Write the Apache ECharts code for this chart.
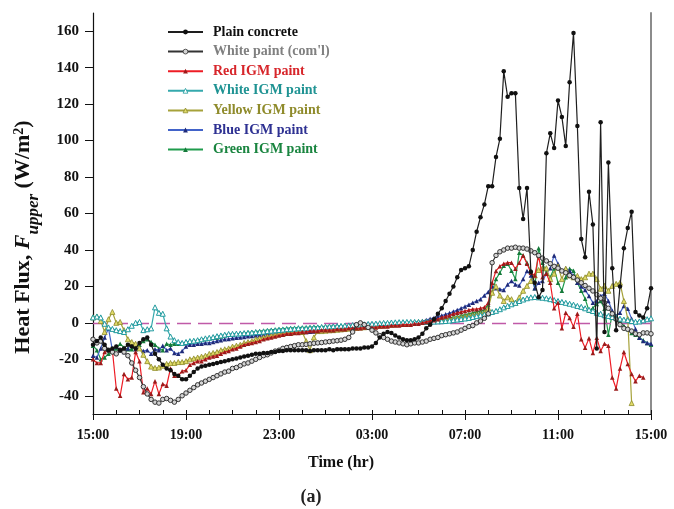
<!DOCTYPE html>
<html><head><meta charset="utf-8">
<script src="https://cdn.jsdelivr.net/npm/echarts@6/dist/echarts.min.js"></script>
<style>html,body{margin:0;padding:0;background:#fff}#c{width:674px;height:509px}</style>
</head><body><div id="c"></div>
<script>
// ---- data (10-minute steps starting 15:00) ----
const STEP_H = 1 / 6;
const seriesNames = ['Plain concrete', "White paint (com'l)", 'Red IGM paint', 'White IGM paint', 'Yellow IGM paint', 'Blue IGM paint', 'Green IGM paint'];
const xTickLabels = ['15:00', '19:00', '23:00', '03:00', '07:00', '11:00', '15:00'];
const yTicks = [-40, -20, 0, 20, 40, 60, 80, 100, 120, 140, 160];

const plainConcrete = [
-12,-10,-8,-12,-15,-14,-13,-15,-14,-12,
-13,-14,-11,-9,-8,-12,-17,-20,-23,-25,
-26,-28,-29,-31,-31,-29,-27,-25,-24,-23.5,
-23,-22.5,-22,-21.5,-21,-20.5,-20,-19.5,-19,-18.5,
-18,-17.5,-17,-17,-16.5,-16.5,-16,-16,-15.5,-15.5,
-15,-15,-15,-15,-15,-15,-15.5,-15,-15,-15,
-15,-14.5,-15,-14.5,-14.5,-14.5,-14.5,-14,-14,-14,
-13.5,-13.5,-13,-11,-8,-6,-5,-5.5,-7,-8,
-9,-9.5,-9.5,-9,-8,-6,-3,-1,2,5,
8,12,16,20,25,29,30,31,40,50,
58,65,75,75,91,101,138,124,126,126,
74,57,74,28,22,14,18,93,104,96,
122,113,97,132,159,108,46,36,72,54,
-14,110,-5,88,30,-4,20,41,52,61,
6,4,3,8,19
];
const whitePaint = [
-9,-11,-10,-14,-15,-16,-17,-15,-16,-18,
-22,-26,-30,-35,-39,-42,-43.5,-44,-42,-41.5,
-42.5,-43.5,-42,-40,-38.5,-37,-35.5,-34,-33,-32,
-31,-30,-29,-28,-27,-26.5,-25,-24.5,-23.5,-22.5,
-22,-21,-20,-19,-18,-17.5,-16.5,-15.5,-15,-14,
-13.5,-13,-12.5,-12,-12,-11.8,-11.5,-11.2,-11,-10.8,
-10.5,-10.3,-10,-9.8,-9.5,-9,-8,-5,-1,0,
-1,-2.5,-4,-5.5,-7,-8,-9,-10,-10.5,-11,
-11.5,-12,-11.5,-11,-11,-10.5,-10,-9,-8.5,-8,
-7,-6.5,-6,-5.5,-5,-4,-3,-2,-1.5,0,
1,2.5,5,33,37,39,40,41,41,41.5,
41,41,40.5,39.5,38.5,37,35.5,34,32.5,31,
30,28.5,27.5,26,25,23.5,22,20.5,19,17.5,
15.5,13.5,11,8,5,2,-1,-3,-3.5,-4.5,
-6,-6.5,-5.5,-5.5,-6
];
const redIGM = [
-20,-22,-22,-16,-15,-15,-36,-40,-28,-31,
-30,-16,-21,-38,-36,-39,-32,-39,-33.5,-34.5,
-25,-29,-29,-26.5,-26,-23,-22,-21,-21,-20,
-19,-18.5,-18,-17,-16,-15.5,-14.5,-14,-13,-12,
-11.5,-11,-10.5,-10,-9,-8.5,-8,-7.5,-7,-6.5,
-6,-6,-5.5,-5.5,-5,-5,-4.5,-4.5,-4.5,-4,
-4,-4,-4,-3.5,-3.5,-3.5,-3,-3,-3,-3,
-2.5,-2.5,-2.5,-2.5,-2,-2,-2,-1.5,-1.5,-1.5,
-1,-1,-1,-0.5,-0.5,0,0.5,1,1.5,2,
3,3.5,4,5,5.5,6,6.5,7,7.5,7.5,
8,8.5,11,22,28.5,31,32.5,33,33,29.7,
33,37,32.4,27.5,26,36.8,25,27,22,8,
11,-3,5.5,2.7,-2.2,5,-9,-13.7,-8.5,-16.5,
-8.2,-15.4,-11.5,-12.6,-30,-36,-25,-16,-22.6,-28,
-32,-29,-30,null,null
];
const whiteIGM = [
3,3.5,3,-0.5,-2.5,-3.3,-4,-4.5,-5,-3.5,
-1.6,0,0.5,-4,-3.5,-3,8.5,5.5,5,-3,
-7.5,-9.5,-10.5,-11,-10.5,-10,-9.8,-9.5,-9,-8.5,
-8.2,-7.8,-7.3,-6.9,-6.5,-6.1,-6,-5.9,-5.8,-5.6,
-5.5,-5.3,-5.1,-5,-4.8,-4.5,-4.3,-4.1,-3.9,-3.7,
-3.5,-3.3,-3.2,-3,-3,-3,-2.8,-2.6,-2.5,-2.3,
-2.2,-2,-1.9,-1.8,-1.7,-1.5,-1.4,-1.2,-1,-0.9,
-0.8,-0.6,-0.5,-0.4,-0.2,0,0,0.2,0.3,0.4,
0.4,0.5,0.5,0.5,0.5,0.5,0.6,0.6,0.7,0.8,
0.9,1,1.2,1.5,1.8,2.1,2.4,2.7,3.2,3.7,
4.2,4.6,5.2,6,6.6,7.5,8.5,9.3,10.2,11,
12,12.8,13.5,14,14.2,14,13.8,13.5,13,12.5,
12,11.5,11,10.5,10,9.3,8.8,8,7.2,6.5,
5.5,5,4.2,3.8,3.2,2.8,2.3,1.8,1.5,1,
0.6,0.8,1.4,2,2.5
];
const yellowIGM = [
3,3.5,1,-5,2,6,0,0.5,-4,-9,
-10.5,-11.5,-14,-17.5,-21,-24,-24.7,-24.5,-23.5,-22.5,
-22,-22,-21.5,-21.5,-21,-20,-19.5,-19,-18.5,-18,
-17,-16.5,-16,-15,-14.5,-14,-13,-12.5,-12,-11,
-10.5,-10,-9,-8.5,-8,-7.5,-7,-6.5,-6,-6,
-5.5,-5.5,-5,-5,-5,-10,-15,-8,-4.5,-4.5,
-4.3,-4.1,-4,-3.8,-3.6,-3.4,-3.2,-3,-2.8,-2.6,
-2.4,-2.2,-2,-1.8,-1.6,-1.4,-1.2,-1,-0.8,-0.6,
-0.4,-0.2,0,0.2,0.4,0.5,0.7,0.9,1.1,1.3,
1.5,1.8,2.1,2.4,2.7,3,3.4,3.8,4.2,4.6,
5,5.5,8,16.5,20,15,12,14,13,11,
14,17.6,20.3,23,26,29,30,30,24,27,
31,24,29.7,26,25,25.8,24,25,27,27,
24,18.7,20.3,17.6,20.3,21.4,22,12,2.2,-44,
null,null,null,null,null
];
const blueIGM = [
-18,-19,-14,-8,-3,-15,-13,-15,-16,-14,
-11.5,-14.5,-14,-15.5,-15,-17,-14.5,-15,-12.6,-15,
-14,-16.5,-17,-15.5,-13,-12,-12,-11.5,-11.5,-11,
-11,-10.5,-10,-9.5,-9,-8.8,-8.5,-8.2,-8,-7.7,
-7.4,-7.2,-7,-6.8,-6.6,-6.4,-6.2,-6,-5.9,-5.8,
-5.6,-5.5,-5.4,-5.3,-5.2,-5,-4.9,-4.7,-4.6,-4.4,
-4.3,-4.1,-4,-3.8,-3.6,-3.4,-3.2,-3,-2.8,-2.6,
-2.4,-2.2,-2,-1.8,-1.6,-1.4,-1.2,-1,-0.8,-0.6,
-0.4,-0.2,0,0.3,0.6,1,1.6,2.2,2.8,3.4,
4,4.7,5.4,6.2,7,8,9,10,11,12,
13,15,17,20,19,18.5,18,21,23,21,
20.5,24,28.5,26,19,22,23,27,30,37,
32.4,28.6,30,28.6,25.8,22,20,18,14.8,11,
12,14.8,16,12,6.6,3.8,5.5,9.3,7.7,2.2,
-3.3,-8.2,-9.9,-11,-11.5
];
const greenIGM = [
-12.5,-15,-20,-19,-17,-16,-14,-11.5,-13.5,-14.5,
-14.5,-13,-12,-10,-9,-10.5,-12,-14,-15,-11.5,
-12,-11.5,-11.5,-11,-11,-10.5,-10,-9.5,-9,-8.8,
-8.5,-8.2,-8,-7.5,-7,-6.5,-6.2,-6,-5.8,-5.5,
-5.2,-5,-4.8,-4.5,-4.2,-4,-3.8,-3.6,-3.4,-3.2,
-3,-2.8,-2.7,-2.6,-2.5,-2.4,-2.3,-2.2,-2.1,-2,
-1.9,-1.8,-1.7,-1.6,-1.5,-1.4,-1.3,-1.2,-1.1,-1,
-0.9,-0.8,-0.7,-0.6,-0.5,-0.4,-0.3,-0.2,-0.1,0,
0.1,0.2,0.3,0.4,0.5,0.6,0.9,1.2,1.5,1.8,
2.1,2.4,2.7,3.1,3.5,4,4.5,5,5.5,6,
6.5,7,10,17,24,27.5,31.3,32.4,28.6,24,
38.5,37,33,28.6,19,41,33,27.5,25,30,
22,17.6,25,29.7,28.6,22,17.6,13.2,6.6,8.2,
10.4,12,7.7,-6.5,5,3.8,1,-1.6,-3.3,-5.5,
-6.5,-8,-9.5,-11,-12
];
const seriesValues = [plainConcrete, whitePaint, redIGM, whiteIGM, yellowIGM, blueIGM, greenIGM];

// ---- styles ----
const SERIF = '"Liberation Serif", "Times New Roman", serif';
const styles = [
  {line: '#1e1e1e', symbol: 'circle', color: '#111111', size: 4.5, text: '#111111'},
  {line: '#333333', symbol: 'circle', color: '#d4d4d4', border: '#333333', bw: 1, size: 4.5, text: '#808080'},
  {line: '#ee1c25', symbol: 'triangle', color: '#9b1b1b', size: 4.5, text: '#d7262b'},
  {line: '#35a9ad', symbol: 'triangle', color: '#ffffff', border: '#1f9a9e', bw: 1, size: 5, text: '#1f9393'},
  {line: '#a6a23a', symbol: 'triangle', color: '#e2dc6a', border: '#8d8a2a', bw: 0.8, size: 5, text: '#8f8b2b'},
  {line: '#4263c9', symbol: 'triangle', color: '#1f2a78', size: 4.5, text: '#2e3192'},
  {line: '#1f9c4d', symbol: 'triangle', color: '#157a3a', size: 4.5, text: '#1a8540'}
];

function toPoints(arr) {
  const out = [];
  arr.forEach((v, i) => { if (v !== null) out.push([i * STEP_H, v]); });
  return out;
}

const series = [];
for (let k = seriesNames.length - 1; k >= 0; k--) {
  const s = styles[k];
  series.push({
    name: seriesNames[k],
    type: 'line',
    xAxisIndex: 0, yAxisIndex: 0,
    data: toPoints(seriesValues[k]),
    symbol: s.symbol,
    symbolSize: s.size,
    showSymbol: true,
    lineStyle: {color: s.line, width: 1.2},
    itemStyle: s.border ? {color: s.color, borderColor: s.border, borderWidth: s.bw} : {color: s.color},
    emphasis: {disabled: true},
    animation: false,
    z: 2 + (seriesNames.length - k)
  });
}
// zero reference line
series.push({
  name: 'zero', type: 'line', data: [], xAxisIndex: 0, yAxisIndex: 0, z: 1,
  markLine: {
    silent: true, symbol: 'none', label: {show: false},
    lineStyle: {color: '#c05aa8', type: [14, 7], width: 1.3},
    data: [{yAxis: 0}], animation: false
  }
});

const chart = echarts.init(document.getElementById('c'));
chart.setOption({
  animation: false,
  backgroundColor: '#ffffff',
  grid: {left: 93, right: 23, top: 13, bottom: 95},
  legend: {
    orient: 'vertical', left: 162, top: 20,
    itemWidth: 35, itemHeight: 6, itemGap: 5.6,
    data: seriesNames.map((n, k) => ({
      name: n,
      textStyle: {color: styles[k].text},
      itemStyle: styles[k].border ? {borderWidth: 0.8, borderColor: styles[k].border} : {}
    })),
    textStyle: {fontFamily: SERIF, fontWeight: 'bold', fontSize: 14, lineHeight: 14, padding: [0, 0, 0, 5]},
    selectedMode: false
  },
  xAxis: [
    {
      type: 'value', min: 0, max: 24, interval: 4,
      axisLine: {show: true, onZero: false, lineStyle: {color: '#111', width: 1.2}},
      axisTick: {show: true, inside: false, length: 6, lineStyle: {color: '#111', width: 1}},
      axisLabel: {
        margin: 14, color: '#111', fontFamily: SERIF, fontWeight: 'bold', fontSize: 14,
        formatter: v => xTickLabels[Math.round(v / 4)]
      },
      splitLine: {show: false}
    },
    {
      type: 'value', min: 0, max: 24, interval: 1, position: 'bottom',
      axisLine: {show: false, onZero: false},
      axisTick: {show: true, inside: true, length: 4, lineStyle: {color: '#111', width: 1}},
      axisLabel: {show: false},
      splitLine: {show: false}
    }
  ],
  yAxis: [
    {
      type: 'value', min: -50, max: 170,
      axisLine: {show: true, onZero: false, lineStyle: {color: '#111', width: 1.2}},
      axisTick: {show: true, inside: false, length: 8, customValues: yTicks, lineStyle: {color: '#111', width: 1}},
      axisLabel: {
        margin: 14, color: '#111', fontFamily: SERIF, fontWeight: 'bold', fontSize: 15,
        customValues: yTicks
      },
      splitLine: {show: false}
    },
    {
      type: 'value', min: -50, max: 170, position: 'right',
      axisLine: {show: true, onZero: false, lineStyle: {color: '#8c8c8c', width: 2}},
      axisTick: {show: false}, axisLabel: {show: false}, splitLine: {show: false}
    }
  ],
  graphic: [
    {
      type: 'text', x: 27, y: 237, rotation: Math.PI / 2,
      style: {
        text: '{b|Heat Flux, }{i|F}{s|upper}{b| (W/m}{p|2}{b|)}',
        align: 'center', verticalAlign: 'middle',
        rich: {
          b: {fontFamily: SERIF, fontWeight: 'bold', fontSize: 22, fill: '#111', lineHeight: 24, verticalAlign: 'top'},
          i: {fontFamily: SERIF, fontWeight: 'bold', fontStyle: 'italic', fontSize: 22, fill: '#111', lineHeight: 24, verticalAlign: 'top'},
          s: {fontFamily: SERIF, fontWeight: 'bold', fontStyle: 'italic', fontSize: 17, fill: '#111', lineHeight: 30, verticalAlign: 'bottom'},
          p: {fontFamily: SERIF, fontWeight: 'bold', fontSize: 14, fill: '#111', lineHeight: 24, verticalAlign: 'top'}
        }
      }
    },
    {
      type: 'text', x: 341, y: 463,
      style: {text: 'Time (hr)', fontFamily: SERIF, fontWeight: 'bold', fontSize: 16, fill: '#111', align: 'center', verticalAlign: 'middle'}
    },
    {
      type: 'text', x: 311, y: 497,
      style: {text: '(a)', fontFamily: SERIF, fontWeight: 'bold', fontSize: 18, fill: '#222', align: 'center', verticalAlign: 'middle'}
    }
  ],
  series: series
});
</script>
</body></html>
